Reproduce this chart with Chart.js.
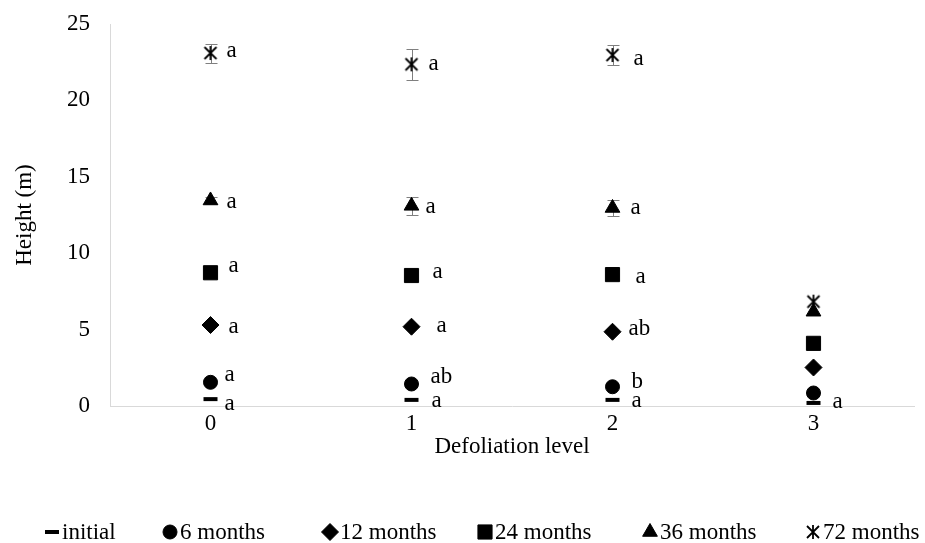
<!DOCTYPE html>
<html>
<head>
<meta charset="utf-8">
<script src="https://cdn.jsdelivr.net/npm/chart.js@4.4.0/dist/chart.umd.min.js"></script>
<style>
  html, body { margin: 0; padding: 0; background: #fff; }
  #contenedor-grafico { width: 925px; height: 543px; }
</style>
</head>
<body>
<div id="contenedor-grafico"><canvas id="grafico-altura" width="925" height="543"></canvas></div>
<script>
// Datos
const categorias = ['0', '1', '2', '3'];
const inicial = [0.45, 0.4, 0.4, 0.2];
const meses6 = [1.55, 1.44, 1.26, 0.85];
const meses12 = [5.3, 5.19, 4.86, 2.52];
const meses24 = [8.72, 8.54, 8.6, 4.1];
const meses36 = [13.45, 13.1, 12.96, 6.17];
const meses72 = [23.1, 22.36, 22.97, 6.83];
const error36 = [0.25, 0.6, 0.5, 0];
const error72 = [0.62, 1.0, 0.65, 0];
const letrasInicial = ['a', 'a', 'a', 'a'];
const letras6 = ['a', 'ab', 'b', ''];
const letras12 = ['a', 'a', 'ab', ''];
const letras24 = ['a', 'a', 'a', ''];
const letras36 = ['a', 'a', 'a', ''];
const letras72 = ['a', 'a', 'a', ''];
const ticksY = [0, 5, 10, 15, 20, 25];

// Estilos
const fuente = "'Liberation Serif', 'Times New Roman', serif";
const tamFuente = 23;
const grisEje = '#d9d9d9';

// marcador estrella (X con línea vertical, como en Excel)
const crearEstrella = () => {
  const c = document.createElement('canvas');
  c.width = 16;
  c.height = 16;
  const ctx = c.getContext('2d');
  ctx.strokeStyle = '#000';
  ctx.lineWidth = 1.8;
  ctx.beginPath();
  ctx.moveTo(2, 2); ctx.lineTo(14, 14);
  ctx.moveTo(14, 2); ctx.lineTo(2, 14);
  ctx.moveTo(8, 1); ctx.lineTo(8, 15);
  ctx.stroke();
  return c;
};
const estrella = crearEstrella();

// desplazamiento de las letras respecto al punto [dx, dy]
const despLetras = [
  [[14, 11], [20, 7], [19, 7], [19, 5]],
  [[14, -1], [19, -1], [19, 1], [0, 0]],
  [[18, 8], [25, 5], [16, 3], [0, 0]],
  [[18, -1], [21, 2], [23, 8], [0, 0]],
  [[16, 8], [14, 7], [18, 6], [0, 0]],
  [[16, 4], [17, 6], [21, 10], [0, 0]]
];

const series = [
  { label: 'initial', data: inicial, letras: letrasInicial, estilo: 'line', radio: 7, borde: 4 },
  { label: '6 months', data: meses6, letras: letras6, estilo: 'circle', radio: 7, borde: 1 },
  { label: '12 months', data: meses12, letras: letras12, estilo: 'rectRot', radio: 8.5, borde: 1 },
  { label: '24 months', data: meses24, letras: letras24, estilo: 'rect', radio: 10, borde: 1 },
  { label: '36 months', data: meses36, letras: letras36, estilo: 'triangle', radio: 8.5, borde: 1, error: error36 },
  { label: '72 months', data: meses72, letras: letras72, estilo: estrella, radio: 8, borde: 0, error: error72 }
];

// Barras de error
const barrasError = {
  id: 'barrasError',
  beforeDatasetsDraw(chart) {
    const ctx = chart.ctx;
    const y = chart.scales.y;
    ctx.save();
    ctx.strokeStyle = '#7f7f7f';
    ctx.lineWidth = 1;
    series.forEach((s, i) => {
      if (!s.error) return;
      chart.getDatasetMeta(i).data.forEach((p, j) => {
        const e = s.error[j];
        if (!e) return;
        const y1 = Math.round(y.getPixelForValue(s.data[j] + e)) + 0.5;
        const y2 = Math.round(y.getPixelForValue(s.data[j] - e)) + 0.5;
        const x = Math.round(p.x) + 0.5;
        ctx.beginPath();
        ctx.moveTo(x, y1); ctx.lineTo(x, y2);
        ctx.moveTo(x - 6, y1); ctx.lineTo(x + 6, y1);
        ctx.moveTo(x - 6, y2); ctx.lineTo(x + 6, y2);
        ctx.stroke();
      });
    });
    ctx.restore();
  }
};

// Letras de significancia
const letras = {
  id: 'letras',
  afterDatasetsDraw(chart) {
    const ctx = chart.ctx;
    ctx.save();
    ctx.font = `${tamFuente}px ${fuente}`;
    ctx.fillStyle = '#000';
    ctx.textAlign = 'left';
    ctx.textBaseline = 'alphabetic';
    series.forEach((s, i) => {
      chart.getDatasetMeta(i).data.forEach((p, j) => {
        const t = s.letras[j];
        if (!t) return;
        const [dx, dy] = despLetras[i][j];
        ctx.fillText(t, p.x + dx, p.y + dy);
      });
    });
    ctx.restore();
  }
};

// Leyenda dibujada a mano
const posLeyenda = [52, 170, 330, 485, 650, 813];
const leyenda = {
  id: 'leyenda',
  afterDraw(chart) {
    const ctx = chart.ctx;
    const yL = 532;
    ctx.save();
    ctx.font = `${tamFuente}px ${fuente}`;
    ctx.textAlign = 'left';
    ctx.textBaseline = 'middle';
    series.forEach((s, i) => {
      const x = posLeyenda[i];
      ctx.fillStyle = '#000';
      ctx.strokeStyle = '#000';
      ctx.lineWidth = s.borde;
      Chart.helpers.drawPoint(ctx, { pointStyle: s.estilo, radius: s.radio, borderWidth: s.borde, rotation: 0 }, x, yL);
      ctx.fillStyle = '#000';
      ctx.fillText(s.label, x + 10, yL + 1);
    });
    ctx.restore();
  }
};

const crearGrafico = () => {
  const data = {
    labels: categorias,
    datasets: series.map(s => ({
      label: s.label,
      data: s.data,
      showLine: false,
      pointStyle: s.estilo,
      pointRadius: s.radio,
      pointHoverRadius: s.radio,
      pointBackgroundColor: '#000',
      pointBorderColor: '#000',
      pointBorderWidth: s.borde,
      borderColor: '#000',
      backgroundColor: '#000'
    }))
  };
  const config = {
    type: 'line',
    data: data,
    options: {
      responsive: false,
      animation: false,
      devicePixelRatio: 1,
      layout: { padding: { top: 24, right: 0, left: 0, bottom: 0 } },
      plugins: {
        legend: { display: false },
        tooltip: { enabled: false }
      },
      scales: {
        x: {
          type: 'category',
          offset: true,
          grid: { display: false, drawTicks: false },
          border: { display: true, color: grisEje, width: 1 },
          ticks: { color: '#000', font: { family: fuente, size: tamFuente }, padding: 4 },
          title: {
            display: true,
            text: 'Defoliation level',
            color: '#000',
            font: { family: fuente, size: tamFuente },
            padding: { top: 0, bottom: 82 }
          },
          afterFit: (scale) => {
            scale.height = 137;
            scale.paddingLeft = 0;
            scale.paddingRight = 0;
          }
        },
        y: {
          min: 0,
          max: 25,
          grid: { display: false, drawTicks: false },
          border: { display: true, color: grisEje, width: 1 },
          afterBuildTicks: (scale) => { scale.ticks = ticksY.map(v => ({ value: v })); },
          ticks: { color: '#000', font: { family: fuente, size: tamFuente }, padding: 20 },
          title: {
            display: true,
            text: 'Height (m)',
            color: '#000',
            font: { family: fuente, size: tamFuente },
            padding: { top: 11, bottom: 0 }
          },
          afterFit: (scale) => {
            scale.width = 110;
            scale.paddingTop = 0;
            scale.paddingBottom = 0;
          }
        }
      }
    },
    plugins: [barrasError, letras, leyenda]
  };
  new Chart(document.querySelector('#grafico-altura').getContext('2d'), config);
};

crearGrafico();
</script>
</body>
</html>
